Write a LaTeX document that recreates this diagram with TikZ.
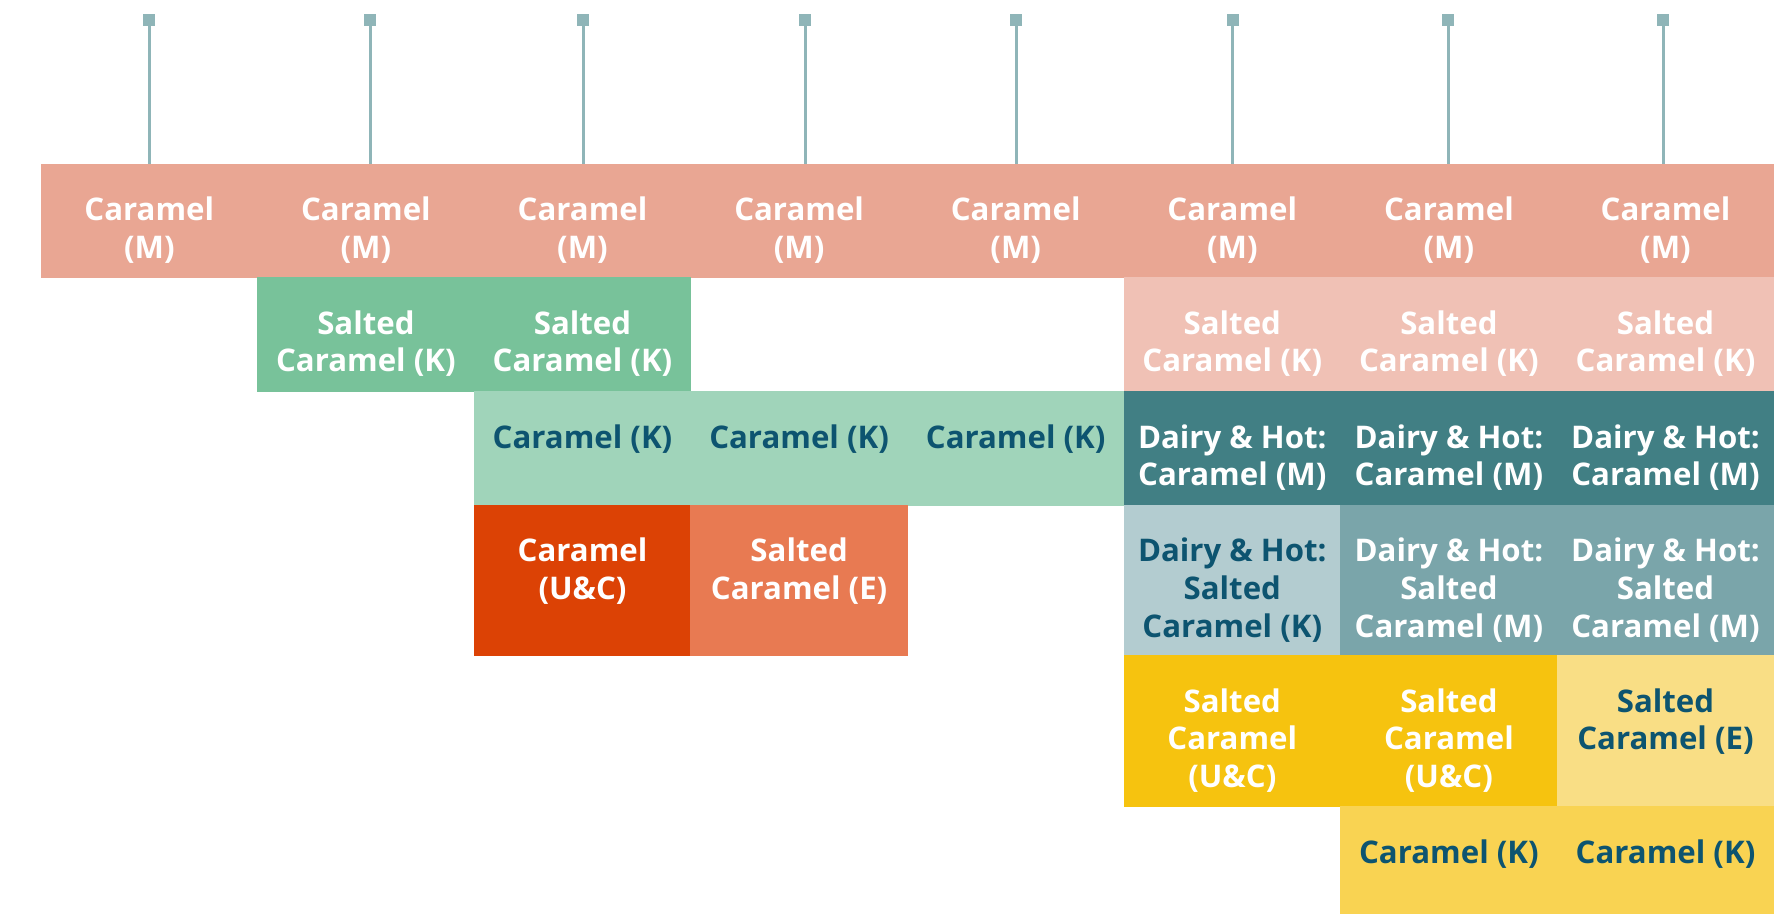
\documentclass[tikz,border=0pt]{standalone}
\usepackage{fontspec}
\setmainfont{Open Sans}
\usepackage{tikz}
\usetikzlibrary{positioning}

\definecolor{salmon}{HTML}{E9A693}
\definecolor{blush}{HTML}{F0C1B5}
\definecolor{leaf}{HTML}{78C29A}
\definecolor{mint}{HTML}{A0D4BA}
\definecolor{teal}{HTML}{417F84}
\definecolor{mist}{HTML}{B3CCD0}
\definecolor{slate}{HTML}{7AA5AA}
\definecolor{rust}{HTML}{DC4205}
\definecolor{coral}{HTML}{E87A52}
\definecolor{gold}{HTML}{F6C30F}
\definecolor{butter}{HTML}{F9DE85}
\definecolor{honey}{HTML}{F9D352}
\definecolor{ink}{HTML}{0D5470}
\definecolor{stem}{HTML}{8FB5B8}

\tikzset{
    cell/.style={rectangle, minimum width=108.3pt, inner sep=0pt, outer sep=0pt,
        fill=#1, draw=#1, line width=0.4pt},
    ra/.style={minimum height=56.75pt},
    rb/.style={minimum height=57pt},
    rc/.style={minimum height=56.75pt},
    rd/.style={minimum height=75.25pt},
    re/.style={minimum height=75.5pt},
    rf/.style={minimum height=54pt},
    lbl/.style={anchor=north, yshift=-16.3pt, align=center, inner sep=0pt,
        font=\bfseries\fontsize{15.6}{18.85}\selectfont},
    wt/.style={label={[lbl, text=white]north:#1}},
    dk/.style={label={[lbl, text=ink]north:#1}},
    pin head/.style={rectangle, fill=stem, minimum size=6pt, inner sep=0pt},
    pin line/.style={draw=stem, line width=1.5pt},
}

\begin{document}
\begin{tikzpicture}
    \useasboundingbox (0,0) rectangle (896pt,-457pt);

    % top row
    \node[cell=salmon, ra, anchor=north west, wt={Caramel\\(M)}] (m1) at (20.5pt,-82pt) {};
    \node[cell=salmon, ra, right=0pt of m1, wt={Caramel\\(M)}] (m2) {};
    \node[cell=salmon, ra, right=0pt of m2, wt={Caramel\\(M)}] (m3) {};
    \node[cell=salmon, ra, right=0pt of m3, wt={Caramel\\(M)}] (m4) {};
    \node[cell=salmon, ra, right=0pt of m4, wt={Caramel\\(M)}] (m5) {};
    \node[cell=salmon, ra, right=0pt of m5, wt={Caramel\\(M)}] (m6) {};
    \node[cell=salmon, ra, right=0pt of m6, wt={Caramel\\(M)}] (m7) {};
    \node[cell=salmon, ra, right=0pt of m7, wt={Caramel\\(M)}] (m8) {};

    % second row
    \node[cell=leaf, rb, below=0pt of m2, wt={Salted\\Caramel (K)}] (s2) {};
    \node[cell=leaf, rb, right=0pt of s2, wt={Salted\\Caramel (K)}] (s3) {};
    \node[cell=blush, rb, below=0pt of m6, wt={Salted\\Caramel (K)}] (s6) {};
    \node[cell=blush, rb, right=0pt of s6, wt={Salted\\Caramel (K)}] (s7) {};
    \node[cell=blush, rb, right=0pt of s7, wt={Salted\\Caramel (K)}] (s8) {};

    % third row
    \node[cell=mint, rc, below=0pt of s3, dk={Caramel (K)}] (k3) {};
    \node[cell=mint, rc, right=0pt of k3, dk={Caramel (K)}] (k4) {};
    \node[cell=mint, rc, right=0pt of k4, dk={Caramel (K)}] (k5) {};
    \node[cell=teal, rc, below=0pt of s6, wt={Dairy \& Hot:\\Caramel (M)}] (d6) {};
    \node[cell=teal, rc, right=0pt of d6, wt={Dairy \& Hot:\\Caramel (M)}] (d7) {};
    \node[cell=teal, rc, right=0pt of d7, wt={Dairy \& Hot:\\Caramel (M)}] (d8) {};

    % fourth row
    \node[cell=rust, rd, below=0pt of k3, wt={Caramel\\(U\&C)}] (u3) {};
    \node[cell=coral, rd, right=0pt of u3, wt={Salted\\Caramel (E)}] (e4) {};
    \node[cell=mist, rd, below=0pt of d6, dk={Dairy \& Hot:\\Salted\\Caramel (K)}] (h6) {};
    \node[cell=slate, rd, right=0pt of h6, wt={Dairy \& Hot:\\Salted\\Caramel (M)}] (h7) {};
    \node[cell=slate, rd, right=0pt of h7, wt={Dairy \& Hot:\\Salted\\Caramel (M)}] (h8) {};

    % fifth row
    \node[cell=gold, re, below=0pt of h6, wt={Salted\\Caramel\\(U\&C)}] (y6) {};
    \node[cell=gold, re, right=0pt of y6, wt={Salted\\Caramel\\(U\&C)}] (y7) {};
    \node[cell=butter, re, right=0pt of y7, dk={Salted\\Caramel (E)}] (e8) {};

    % last row
    \node[cell=honey, rf, below=0pt of y7, dk={Caramel (K)}] (c7) {};
    \node[cell=honey, rf, right=0pt of c7, dk={Caramel (K)}] (c8) {};

    % pins
    \node[pin head] (p1) at (74.5pt,-10pt) {};
    \node[pin head] (p2) at (185pt,-10pt) {};
    \node[pin head] (p3) at (291.5pt,-10pt) {};
    \node[pin head] (p4) at (402.5pt,-10pt) {};
    \node[pin head] (p5) at (508pt,-10pt) {};
    \node[pin head] (p6) at (616.35pt,-10pt) {};
    \node[pin head] (p7) at (724.15pt,-10pt) {};
    \node[pin head] (p8) at (831.5pt,-10pt) {};

    \draw[pin line] (p1.south) -- (p1 |- m1.north);
    \draw[pin line] (p2.south) -- (p2 |- m2.north);
    \draw[pin line] (p3.south) -- (p3 |- m3.north);
    \draw[pin line] (p4.south) -- (p4 |- m4.north);
    \draw[pin line] (p5.south) -- (p5 |- m5.north);
    \draw[pin line] (p6.south) -- (p6 |- m6.north);
    \draw[pin line] (p7.south) -- (p7 |- m7.north);
    \draw[pin line] (p8.south) -- (p8 |- m8.north);
\end{tikzpicture}
\end{document}
